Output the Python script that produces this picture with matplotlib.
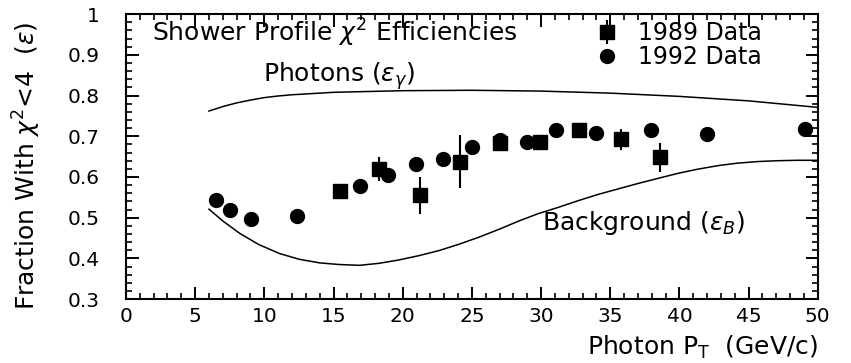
import numpy as np
import matplotlib.pyplot as plt
from matplotlib.ticker import MultipleLocator

# 1989 data (squares with error bars)
pt_89 = [15.46, 18.30, 21.24, 24.13, 27.00, 29.95, 32.75, 35.77, 38.58]
eff_89 = [0.566, 0.619, 0.555, 0.637, 0.683, 0.686, 0.715, 0.693, 0.648]
err_89 = [0.010, 0.029, 0.046, 0.065, 0.012, 0.008, 0.013, 0.026, 0.035]

# 1992 data (circles)
pt_92 = [6.48, 7.51, 9.01, 12.33, 16.95, 18.95, 20.93, 22.93, 25.02,
         27.00, 28.95, 31.07, 33.96, 37.98, 41.96, 49.06]
eff_92 = [0.543, 0.518, 0.496, 0.504, 0.578, 0.604, 0.631, 0.643, 0.674,
          0.690, 0.686, 0.715, 0.708, 0.715, 0.705, 0.719]

# expected efficiency curves
pt_gamma = [6, 7, 8, 9, 10, 11, 12, 13.5, 15, 17.5, 20, 25, 30, 35, 40,
            45, 50]
eff_gamma = [0.762, 0.773, 0.782, 0.789, 0.795, 0.799, 0.802, 0.805, 0.808,
             0.810, 0.812, 0.813, 0.811, 0.806, 0.798, 0.787, 0.771]

pt_bkg = [6.0, 7.0, 8.2, 9.6, 11.1, 12.5, 14.0, 15.4, 16.9, 18.3, 19.7,
          21.2, 22.6, 24.0, 25.5, 27.0, 28.4, 29.8, 31.3, 32.7, 34.1, 35.6,
          37.0, 38.5, 39.9, 41.3, 42.8, 44.2, 45.7, 47.1, 48.5, 50.0]
eff_bkg = [0.521, 0.492, 0.462, 0.434, 0.412, 0.398, 0.389, 0.385, 0.383,
           0.388, 0.396, 0.407, 0.419, 0.434, 0.452, 0.472, 0.492, 0.510,
           0.526, 0.542, 0.557, 0.571, 0.584, 0.597, 0.609, 0.619, 0.628,
           0.634, 0.638, 0.640, 0.641, 0.641]

plt.rcParams['font.family'] = 'DejaVu Sans'
plt.rcParams['mathtext.fontset'] = 'dejavusans'

fig = plt.figure(figsize=(8.51, 3.63), dpi=100)
ax = fig.add_axes([0.148, 0.176, 0.813, 0.785])

ax.plot(pt_gamma, eff_gamma, color='black', lw=1.1)
ax.plot(pt_bkg, eff_bkg, color='black', lw=1.1)

h89 = ax.errorbar(pt_89, eff_89, yerr=err_89, fmt='s', color='black',
                  ms=9.5, elinewidth=1.5, capsize=0, zorder=3)
h92, = ax.plot(pt_92, eff_92, 'o', color='black', ms=10, zorder=3)

ax.set_xlim(0, 50)
ax.set_ylim(0.3, 1.0)
ax.xaxis.set_major_locator(MultipleLocator(5))
ax.xaxis.set_minor_locator(MultipleLocator(1))
ax.yaxis.set_major_locator(MultipleLocator(0.1))
ax.yaxis.set_minor_locator(MultipleLocator(0.02))
ax.set_yticks(np.arange(0.3, 1.01, 0.1))
ax.set_yticklabels(['0.3', '0.4', '0.5', '0.6', '0.7', '0.8', '0.9', '1'])

ax.tick_params(which='both', direction='in', top=True, right=True)
ax.tick_params(which='major', length=9, width=1.4)
ax.tick_params(which='minor', length=4.5, width=1.2)
ax.tick_params(axis='x', which='major', labelsize=14.5, pad=6)
ax.tick_params(axis='y', which='major', labelsize=14.5, pad=19)
for s in ax.spines.values():
    s.set_linewidth(1.5)

ax.set_ylabel(r'Fraction With $\chi^2$<4  ($\varepsilon$)', fontsize=18)
ax.yaxis.set_label_coords(-0.12, 0.467)
ax.set_xlabel(r'Photon P$_\mathrm{T}$  (GeV/c)', fontsize=18, ha='right')
ax.xaxis.set_label_coords(1.0, -0.12)

ax.text(1.9, 0.953, r'Shower Profile $\chi^2$ Efficiencies', fontsize=18,
        va='center', ha='left')
ax.text(9.9, 0.847, r'Photons ($\varepsilon_\gamma$)', fontsize=18,
        va='center', ha='left')
ax.text(30.06, 0.487, r'Background ($\varepsilon_B$)', fontsize=18,
        va='center', ha='left')

ax.legend([h89, h92], ['1989 Data', '1992 Data'], loc='upper left',
          bbox_to_anchor=(0.682, 0.975), frameon=False, fontsize=17,
          handlelength=0.8, handletextpad=0.9, labelspacing=0.0,
          borderpad=0, borderaxespad=0)

fig.savefig('out.png', dpi=100)
